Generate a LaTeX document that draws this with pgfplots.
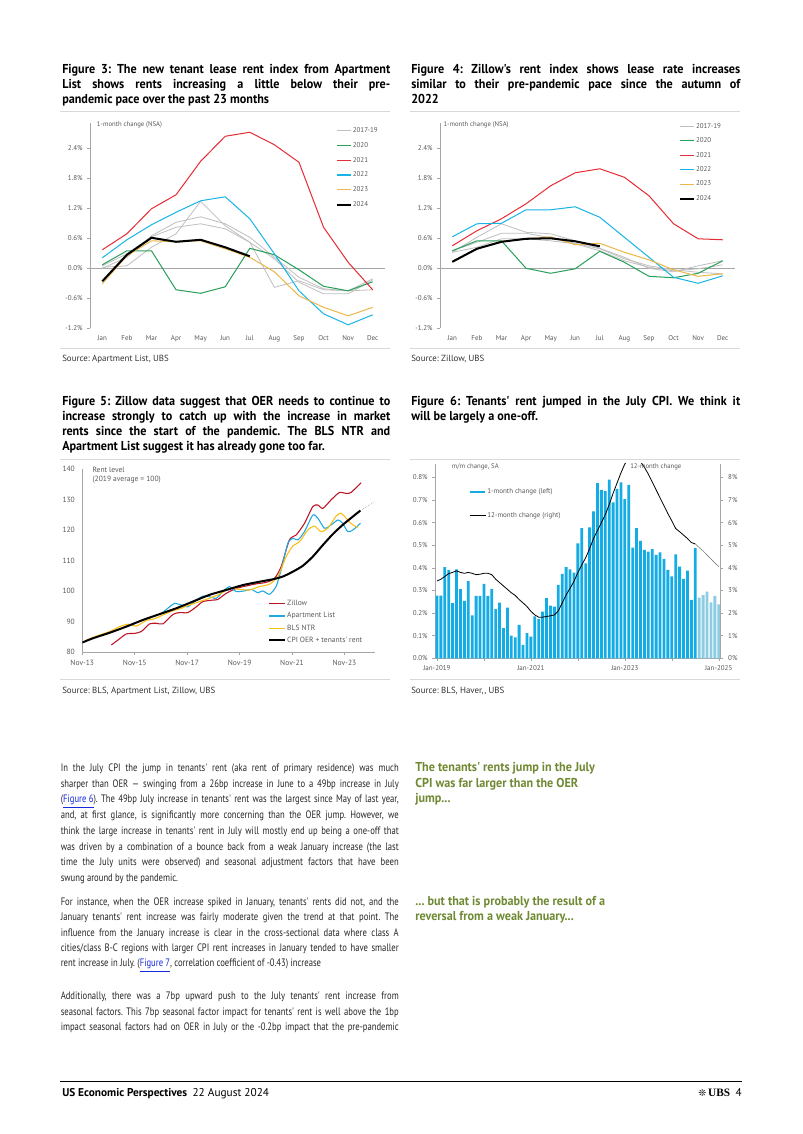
\documentclass[border=0pt]{standalone}
\usepackage{fontspec}
\setmainfont{PT Sans}
\newfontfamily\bodyfont{PT Sans}[FakeStretch=0.8]
\newfontfamily\titlefont{PT Sans}[FakeStretch=0.94]
\newfontfamily\chartfont{PT Sans}
\newfontfamily\dejavu{DejaVu Sans}
\newfontfamily\logofont{Liberation Serif}
\usepackage{pgfplots}
\pgfplotsset{compat=1.18}

\definecolor{ticklab}{RGB}{89,89,89}
\definecolor{axisgray}{RGB}{166,166,166}
\definecolor{sepgray}{RGB}{217,217,217}
\definecolor{c1719}{RGB}{191,191,191}
\definecolor{c2020}{RGB}{40,160,90}
\definecolor{c2021}{RGB}{230,45,55}
\definecolor{c2022}{RGB}{25,180,230}
\definecolor{c2023}{RGB}{235,185,75}
\definecolor{zillow}{RGB}{190,20,40}
\definecolor{aptlist}{RGB}{30,170,225}
\definecolor{blsntr}{RGB}{250,190,20}
\definecolor{barc}{RGB}{20,172,228}
\definecolor{barlight}{RGB}{140,205,228}
\definecolor{note}{RGB}{112,138,52}
\definecolor{link}{RGB}{20,40,220}

\pgfplotsset{
  chart/.style={
    scale only axis, anchor=south west,
    axis line style={axisgray,-},
    tick style={axisgray,line width=0.4pt},
    major tick length=2pt, tick align=outside,
    tick label style={font=\chartfont\fontsize{5.2}{6}\selectfont, text=ticklab},
    /pgf/number format/assume math mode=true,
    legend style={draw=none, fill=none, font=\chartfont\fontsize{5.2}{6}\selectfont,
      text=ticklab, legend cell align=left},
  },
  monthly/.style={
    width=219pt, height=152.2pt,
    xmin=0.5, xmax=12.5, ymin=-1.2, ymax=2.9,
    axis x line*=bottom, axis y line*=left,
    x axis line style={draw=none},
    xtick={1,...,12},
    xticklabels={Jan,Feb,Mar,Apr,May,Jun,Jul,Aug,Sep,Oct,Nov,Dec},
    xtick style={draw=none},
    ytick={-1.2,-0.6,0,0.6,1.2,1.8,2.4},
    yticklabel={\pgfmathprintnumber[fixed,fixed zerofill,precision=1]{\tick}\%},
    extra y ticks={0}, extra y tick labels={},
    extra y tick style={grid=major, major grid style={axisgray,line width=0.5pt}},
    legend style={anchor=north west, row sep=4.6pt,
      nodes={inner sep=0.8pt, text height=3.8pt, text depth=1pt}},
  },
}

\newcommand\J[4]{\node[anchor=base west,inner sep=0pt] at (#1,#2) {\makebox[#3][s]{#4}};}
\newcommand\T[3]{\node[anchor=base west,inner sep=0pt] at (#1,#2) {#3};}

\begin{document}
\frenchspacing
\begin{tikzpicture}[x=0.7423pt,y=-0.7423pt]
\path[use as bounding box, fill=white] (0,0) rectangle (802,1134);

% panel rules
\draw[sepgray,line width=0.5pt] (60,111) -- (390,111) (60,348) -- (390,348);
\draw[sepgray,line width=0.5pt] (410,111) -- (740,111) (410,348) -- (740,348);
\draw[sepgray,line width=0.5pt] (60,459) -- (390,459) (60,679) -- (390,679);
\draw[sepgray,line width=0.5pt] (410,459) -- (740,459) (410,679) -- (740,679);

% ---------------- Figure 3
\begin{axis}[chart, monthly, at={({90*0.7423pt},{-328.3*0.7423pt})},
  legend style={at={(0.82,1.0)}},
  legend image code/.code={\draw[#1] (0pt,0pt) -- (10pt,0pt);}]
\addplot[c1719, line width=0.6pt] coordinates {(1,0.02)(2,0.05)(3,0.42)(4,0.69)(5,1.34)(6,0.85)(7,0.52)(8,-0.38)(9,-0.25)(10,-0.43)(11,-0.45)(12,-0.21)};
\addlegendentry{2017-19}
\addplot[c1719, line width=0.6pt, forget plot] coordinates {(1,0.0)(2,0.22)(3,0.65)(4,0.92)(5,1.03)(6,0.89)(7,0.62)(8,0.22)(9,-0.18)(10,-0.41)(11,-0.45)(12,-0.43)};
\addplot[c1719, line width=0.6pt, forget plot] coordinates {(1,0.05)(2,0.29)(3,0.63)(4,0.82)(5,0.89)(6,0.79)(7,0.52)(8,0.19)(9,-0.28)(10,-0.51)(11,-0.51)(12,-0.23)};
\addplot[c2020, line width=0.75pt] coordinates {(1,0.07)(2,0.35)(3,0.35)(4,-0.43)(5,-0.5)(6,-0.37)(7,0.4)(8,0.27)(9,-0.03)(10,-0.36)(11,-0.45)(12,-0.27)};
\addlegendentry{2020}
\addplot[c2021, line width=0.75pt] coordinates {(1,0.37)(2,0.69)(3,1.19)(4,1.47)(5,2.14)(6,2.64)(7,2.72)(8,2.47)(9,2.12)(10,0.82)(11,0.12)(12,-0.43)};
\addlegendentry{2021}
\addplot[c2022, line width=0.75pt] coordinates {(1,0.21)(2,0.57)(3,0.87)(4,1.12)(5,1.35)(6,1.43)(7,0.99)(8,0.29)(9,-0.45)(10,-0.91)(11,-1.13)(12,-0.93)};
\addlegendentry{2022}
\addplot[c2023, line width=0.75pt] coordinates {(1,-0.31)(2,0.25)(3,0.55)(4,0.53)(5,0.55)(6,0.39)(7,0.22)(8,-0.07)(9,-0.55)(10,-0.78)(11,-0.95)(12,-0.78)};
\addlegendentry{2023}
\addplot[black, line width=1.5pt] coordinates {(1,-0.26)(2,0.27)(3,0.61)(4,0.53)(5,0.57)(6,0.42)(7,0.24)};
\addlegendentry{2024}
\end{axis}

% ---------------- Figure 4
\begin{axis}[chart, monthly, at={({440*0.7423pt},{-328.3*0.7423pt})},
  legend style={at={(0.797,1.02)}, row sep=4.3pt},
  legend image code/.code={\draw[#1] (0pt,0pt) -- (10pt,0pt);}]
\addplot[c1719, line width=0.6pt] coordinates {(1,0.32)(2,0.62)(3,0.89)(4,0.72)(5,0.69)(6,0.55)(7,0.4)(8,0.22)(9,0.0)(10,-0.07)(11,0.05)(12,0.15)};
\addlegendentry{2017-19}
\addplot[c1719, line width=0.6pt, forget plot] coordinates {(1,0.35)(2,0.52)(3,0.7)(4,0.7)(5,0.61)(6,0.5)(7,0.39)(8,0.19)(9,0.05)(10,-0.03)(11,-0.08)(12,-0.11)};
\addplot[c1719, line width=0.6pt, forget plot] coordinates {(1,0.32)(2,0.42)(3,0.59)(4,0.59)(5,0.55)(6,0.49)(7,0.35)(8,0.15)(9,0.02)(10,-0.05)(11,-0.01)(12,0.07)};
\addplot[c2020, line width=0.75pt] coordinates {(1,0.35)(2,0.55)(3,0.55)(4,0.0)(5,-0.1)(6,-0.01)(7,0.34)(8,0.12)(9,-0.16)(10,-0.19)(11,-0.1)(12,0.15)};
\addlegendentry{2020}
\addplot[c2021, line width=0.75pt] coordinates {(1,0.45)(2,0.75)(3,0.99)(4,1.29)(5,1.65)(6,1.91)(7,1.99)(8,1.82)(9,1.45)(10,0.89)(11,0.59)(12,0.57)};
\addlegendentry{2021}
\addplot[c2022, line width=0.75pt] coordinates {(1,0.63)(2,0.89)(3,0.9)(4,1.17)(5,1.17)(6,1.23)(7,1.02)(8,0.62)(9,0.22)(10,-0.18)(11,-0.3)(12,-0.15)};
\addlegendentry{2022}
\addplot[c2023, line width=0.75pt] coordinates {(1,0.12)(2,0.39)(3,0.54)(4,0.59)(5,0.63)(6,0.47)(7,0.5)(8,0.32)(9,0.17)(10,-0.03)(11,-0.16)(12,-0.11)};
\addlegendentry{2023}
\addplot[black, line width=1.5pt] coordinates {(1,0.13)(2,0.39)(3,0.53)(4,0.59)(5,0.6)(6,0.54)(7,0.44)};
\addlegendentry{2024}
\end{axis}

% ---------------- Figure 5
\begin{axis}[chart, at={({82.3*0.7423pt},{-652.3*0.7423pt})}, width=217.3pt, height=136.1pt,
  xmin=0, xmax=134, ymin=80, ymax=140,
  axis x line*=bottom, axis y line*=left,
  xtick={0,24,48,72,96,120},
  xticklabels={Nov-13,Nov-15,Nov-17,Nov-19,Nov-21,Nov-23},
  ytick={80,90,100,110,120,130,140}, ytick style={draw=none},
  tick label style={font=\chartfont\fontsize{5.6}{6.5}\selectfont},
  legend style={at={(0.62,0.305)}, anchor=north west, row sep=2.3pt,
    font=\chartfont\fontsize{5.6}{6.5}\selectfont,
    nodes={inner sep=0.8pt, text height=4pt, text depth=1.1pt}},
  legend image code/.code={\draw[#1] (0pt,0pt) -- (11.9pt,0pt);}]
\addplot[zillow, line width=0.8pt, smooth, tension=0.4] coordinates {(13.3,82.4)(16.3,84)(20.1,86)(23.9,86.2)(27,86.8)(30.8,89.3)(33.9,89.5)(36.9,89.3)(41.5,92.4)(44.5,93)(48.3,93)(52.2,94.9)(55.2,96.6)(59.8,97.1)(62,97.3)(65.9,99.3)(70.4,100.9)(75,101.7)(79.6,102.4)(84.2,102.9)(88,104.2)(91,108)(94.8,116.8)(97.9,118.4)(101.7,122.2)(105.5,127.7)(107.8,128.2)(110.1,127.1)(113.9,129.9)(117.7,132.3)(120.8,132)(123,132.3)(127.6,135.5)};
\addlegendentry{Zillow}
\addplot[aptlist, line width=0.8pt, smooth, tension=0.4] coordinates {(35.4,92.2)(40,94.9)(42.2,96)(45.3,95.5)(48.3,94.9)(51.4,96.6)(55.2,98.4)(58.2,98.2)(61.3,97.7)(65.1,100.4)(67.4,101.5)(70.4,99.9)(74.3,100.1)(77.3,100.6)(80.4,99.5)(82.6,100.1)(85.7,99)(88.7,101.5)(91,106.9)(94.1,115.7)(96.4,117.3)(98.7,116.8)(101.7,119.5)(105.5,124.9)(107.8,123.9)(110.9,120.6)(113.9,121.7)(117,123.3)(119.2,122.2)(121.5,119.5)(123.8,120)(127.3,122.2)};
\addlegendentry{Apartment List}
\addplot[blsntr, line width=0.8pt, smooth, tension=0.4] coordinates {(1.8,84)(6.4,85.3)(12.5,86.8)(17.1,88.4)(20.9,89.2)(24.7,88.6)(29.3,90.4)(33.1,91)(36.9,92.2)(41.5,93.6)(45.3,94.4)(49.1,95.5)(53.7,96.6)(58.2,97.7)(62.8,99)(67.4,100.9)(72,100.6)(76.5,100.4)(81.1,101.5)(85.7,102.3)(89.5,104.8)(93.3,111.3)(96.4,114.8)(99.4,116.2)(103.2,120)(106.3,121.3)(109.3,119.5)(112.4,120.6)(116.2,124.6)(118.5,125.5)(121.5,123.3)(123.8,121.7)(126.1,120.9)};
\addlegendentry{BLS NTR}
\addplot[black, line width=1.5pt, smooth, tension=0.4] coordinates {(0,83.2)(4.9,84.6)(12.5,86.4)(20.1,88.4)(27.8,90.6)(35.4,92.5)(43,94.4)(50.6,96.6)(58.2,98.8)(65.9,100.4)(73.5,102)(81.1,103.1)(87.2,103.9)(91.8,104.8)(96.4,106.4)(100.9,108.3)(105.5,111.3)(110.1,115.1)(114.7,118.7)(119.2,121.7)(123.8,124.4)(127.3,126.4)};
\addlegendentry{CPI OER + tenants' rent}
\addplot[black!55, line width=0.35pt, densely dotted, forget plot] coordinates {(127.3,126.4)(133.7,129.2)};
\end{axis}

% ---------------- Figure 6 (left axis, bars)
\begin{axis}[chart, at={({435*0.7423pt},{-658.3*0.7423pt})}, width=212.1pt, height=144.3pt,
  xmin=-0.5, xmax=72.5, ymin=0, ymax=0.86,
  axis x line*=bottom, axis y line*=left,
  xtick={0,12,24,36,48,60,72},
  xticklabels={Jan-2019,,Jan-2021,,Jan-2023,,Jan-2025},
  ytick={0,0.1,0.2,0.3,0.4,0.5,0.6,0.7,0.8},
  yticklabel={\pgfmathprintnumber[fixed,fixed zerofill,precision=1]{\tick}\%},
  legend style={at={(0.105,0.893)}, anchor=north west, row sep=11pt,
    nodes={inner sep=0.8pt, text height=3.8pt, text depth=1pt}}]
\addplot[ybar, bar width=0.72, bar shift=0pt, fill=barc, draw=none,
  legend image code/.code={\fill[barc] (0pt,-1.1pt) rectangle (11pt,1.1pt);}]
coordinates {(0,0.277)(1,0.277)(2,0.403)(3,0.391)(4,0.244)(5,0.394)(6,0.306)(7,0.254)(8,0.341)(9,0.19)(10,0.276)(11,0.276)(12,0.329)(13,0.276)(14,0.307)(15,0.218)(16,0.246)(17,0.133)(18,0.224)(19,0.1)(20,0.093)(21,0.148)(22,0.059)(23,0.111)(24,0.096)(25,0.185)(26,0.173)(27,0.207)(28,0.266)(29,0.233)(30,0.229)(31,0.325)(32,0.373)(33,0.403)(34,0.394)(35,0.379)(36,0.509)(37,0.576)(38,0.42)(39,0.579)(40,0.65)(41,0.775)(42,0.745)(43,0.74)(44,0.79)(45,0.69)(46,0.748)(47,0.778)(48,0.704)(49,0.767)(50,0.49)(51,0.576)(52,0.52)(53,0.48)(54,0.472)(55,0.483)(56,0.458)(57,0.469)(58,0.44)(59,0.391)(60,0.362)(61,0.46)(62,0.406)(63,0.351)(64,0.388)(65,0.258)(66,0.487)};
\addlegendentry{1-month change (left)}
\addplot[ybar, bar width=0.72, bar shift=0pt, fill=barlight, draw=none, forget plot]
coordinates {(67,0.269)(68,0.28)(69,0.295)(70,0.248)(71,0.276)(72,0.239)};
\addlegendimage{legend image code/.code={\draw[black,line width=0.6pt] (0pt,0pt) -- (12pt,0pt);}}
\addlegendentry{12-month change (right)}
\end{axis}

% ---------------- Figure 6 (right axis, 12-month line)
\begin{axis}[chart, at={({435*0.7423pt},{-658.3*0.7423pt})}, width=212.1pt, height=144.3pt,
  xmin=-0.5, xmax=72.5, ymin=0, ymax=8.6,
  axis x line=none, axis y line*=right,
  ytick={0,1,2,3,4,5,6,7,8},
  yticklabel={\pgfmathprintnumber{\tick}\%}]
\addplot[black, line width=0.6pt] coordinates {(0,3.42)(1,3.5)(2,3.62)(3,3.75)(4,3.8)(5,3.87)(6,3.8)(7,3.76)(8,3.8)(9,3.76)(10,3.7)(11,3.72)(12,3.76)(13,3.76)(14,3.7)(15,3.5)(16,3.35)(17,3.2)(18,3.05)(19,2.9)(20,2.78)(21,2.6)(22,2.45)(23,2.29)(24,2.08)(25,1.92)(26,1.82)(27,1.82)(28,1.85)(29,1.88)(30,1.92)(31,2.1)(32,2.45)(33,2.8)(34,3.1)(35,3.4)(36,3.8)(37,4.13)(38,4.45)(39,4.85)(40,5.3)(41,5.65)(42,6.0)(43,6.35)(44,6.8)(45,7.3)(46,7.75)(47,8.2)(48,8.6)(49,8.8)(50,8.9)(51,8.85)(52,8.7)(53,8.45)(54,8.15)(55,7.8)(56,7.45)(57,7.1)(58,6.75)(59,6.4)(60,6.08)(61,5.74)(62,5.6)(63,5.45)(64,5.3)(65,5.12)(66,5.06)};
\addplot[black!60, line width=0.35pt] coordinates {(66,5.06)(67,4.9)(68,4.75)(69,4.57)(70,4.4)(71,4.22)(72,4.06)};
\end{axis}

% ---------------- chart annotations
\begin{scope}[every node/.append style={font=\chartfont\fontsize{5}{6}\selectfont, text=ticklab}]
\T{96.7}{126.5}{1-month change (NSA)}
\T{443.3}{126.5}{1-month change (NSA)}
\T{451.7}{468.3}{m/m change, SA}
\T{630}{468.3}{12-month change}
\end{scope}
\begin{scope}[every node/.append style={font=\chartfont\fontsize{5.6}{6.5}\selectfont, text=ticklab}]
\T{92.3}{472.3}{Rent level}
\T{92.3}{481.8}{(2019 average = 100)}
\end{scope}

% ---------------- figure titles
\begin{scope}[every node/.append style={font={\titlefont\bfseries\fontsize{9.6}{11}\selectfont}}]
\J{62}{73.5}{243.5pt}{Figure 3: The new tenant lease rent index from Apartment}
\J{62}{88.5}{243.5pt}{List shows rents increasing a little below their pre-}
\T{62}{103.5}{pandemic pace over the past 23 months}
\J{411}{73.5}{244.2pt}{Figure 4: Zillow's rent index shows lease rate increases}
\J{411}{88.5}{244.2pt}{similar to their pre-pandemic pace since the autumn of}
\T{411}{103.5}{2022}
\J{62}{405.5}{243.5pt}{Figure 5: Zillow data suggest that OER needs to continue to}
\J{62}{420.5}{243.5pt}{increase strongly to catch up with the increase in market}
\J{62}{435.5}{243.5pt}{rents since the start of the pandemic. The BLS NTR and}
\T{62}{450.3}{Apartment List suggest it has already gone too far.}
\J{411}{405.5}{244.2pt}{Figure 6: Tenants' rent jumped in the July CPI. We think it}
\T{411}{420.5}{will be largely a one-off.}
\end{scope}

% ---------------- sources
\begin{scope}[every node/.append style={font=\chartfont\fontsize{6.6}{7.5}\selectfont, text=black!80}]
\T{62}{361}{Source: Apartment List, UBS}
\T{411}{361}{Source: Zillow, UBS}
\T{62}{693.5}{Source: BLS, Apartment List, Zillow, UBS}
\T{411}{693.5}{Source: BLS, Haver,, UBS}
\end{scope}

% ---------------- body text
\begin{scope}[every node/.append style={font={\bodyfont\fontsize{8}{10}\selectfont}, text=black!85}]
\J{60.5}{771.5}{250.9pt}{In the July CPI the jump in tenants' rent (aka rent of primary residence) was much}
\J{60.5}{787.2}{250.9pt}{sharper than OER — swinging from a 26bp increase in June to a 49bp increase in July}
\J{60.5}{802.9}{250.9pt}{(\textcolor{link}{\underline{Figure 6}}). The 49bp July increase in tenants' rent was the largest since May of last year,}
\J{60.5}{818.6}{250.9pt}{and, at first glance, is significantly more concerning than the OER jump. However, we}
\J{60.5}{834.3}{250.9pt}{think the large increase in tenants' rent in July will mostly end up being a one-off that}
\J{60.5}{850.0}{250.9pt}{was driven by a combination of a bounce back from a weak January increase (the last}
\J{60.5}{865.7}{250.9pt}{time the July units were observed) and seasonal adjustment factors that have been}
\T{60.5}{881.4}{swung around by the pandemic.}
\J{60.5}{905.5}{250.9pt}{For instance, when the OER increase spiked in January, tenants' rents did not, and the}
\J{60.5}{920.8}{250.9pt}{January tenants' rent increase was fairly moderate given the trend at that point. The}
\J{60.5}{936.1}{250.9pt}{influence from the January increase is clear in the cross-sectional data where class A}
\J{60.5}{951.4}{250.9pt}{cities/class B-C regions with larger CPI rent increases in January tended to have smaller}
\T{60.5}{966.7}{rent increase in July. (\textcolor{link}{\underline{Figure 7}}, correlation coefficient of -0.43) increase}
\J{60.5}{999.5}{250.9pt}{Additionally, there was a 7bp upward push to the July tenants' rent increase from}
\J{60.5}{1015.2}{250.9pt}{seasonal factors. This 7bp seasonal factor impact for tenants' rent is well above the 1bp}
\J{60.5}{1030.9}{250.9pt}{impact seasonal factors had on OER in July or the -0.2bp impact that the pre-pandemic}
\end{scope}

% ---------------- side notes
\begin{scope}[every node/.append style={font={\titlefont\bfseries\fontsize{9.6}{11}\selectfont}, text=note}]
\T{415}{771.5}{The tenants' rents jump in the July}
\T{415}{787.2}{CPI was far larger than the OER}
\T{415}{802.9}{jump...}
\T{415}{905.5}{... but that is probably the result of a}
\T{415}{920.8}{reversal from a weak January...}
\end{scope}

% ---------------- footer
\draw[black, line width=0.6pt] (60,1081) -- (742,1081);
\node[anchor=base west, inner sep=0pt, font=\fontsize{8.4}{10}\selectfont] at (62,1096)
  {\textbf{US Economic Perspectives}\hspace{4pt}22 August 2024};
\node[anchor=base east, inner sep=0pt, font=\fontsize{8.4}{10}\selectfont] at (742,1096)
  {{\dejavu\fontsize{7}{8}\selectfont ❊}\,{\logofont\bfseries UBS}\hspace{4pt}4};
\end{tikzpicture}
\end{document}
